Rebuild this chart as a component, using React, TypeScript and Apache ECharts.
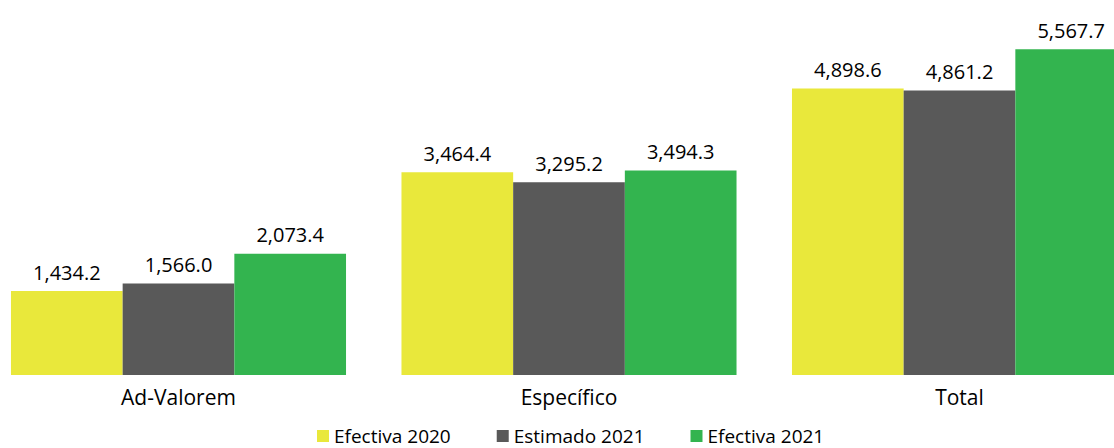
import React, { useEffect, useRef } from "react";
import * as echarts from "echarts";

const categories = ["Ad-Valorem", "Específico", "Total"];
const seriesNames = ["Efectiva 2020", "Estimado 2021", "Efectiva 2021"];
const efectiva2020 = [1434.2, 3464.4, 4898.6];
const estimado2021 = [1566.0, 3295.2, 4861.2];
const efectiva2021 = [2073.4, 3494.3, 5567.7];
const colors = ["#E9E83B", "#595959", "#33B44F"];

const FONT = "'Open Sans', 'Noto Sans', sans-serif";

const fmt = (v: number) =>
  v.toLocaleString("en-US", { minimumFractionDigits: 1, maximumFractionDigits: 1 });

export default function App() {
  const ref = useRef<HTMLDivElement>(null);
  useEffect(() => {
    if (!ref.current) return;
    const chart = echarts.init(ref.current, undefined, { renderer: "svg" });
    const values = [efectiva2020, estimado2021, efectiva2021];
    chart.setOption({
      animation: false,
      backgroundColor: "#ffffff",
      textStyle: { fontFamily: FONT },
      grid: {
        left: -16.75,
        width: 1171.5,
        top: 24,
        bottom: 73,
        containLabel: false,
        outerBoundsMode: "none",
      },
      legend: {
        data: seriesNames,
        left: 317,
        top: 426,
        padding: 0,
        icon: "rect",
        itemWidth: 12,
        itemHeight: 12,
        itemGap: 46,
        textStyle: { fontFamily: FONT, fontSize: 19, lineHeight: 20, color: "#000" },
      },
      xAxis: {
        type: "category",
        data: categories,
        axisLine: { show: false },
        axisTick: { show: false },
        axisLabel: { fontFamily: FONT, fontSize: 21, color: "#000", margin: 11 },
      },
      yAxis: {
        type: "value",
        min: 0,
        max: 6000,
        show: false,
        splitLine: { show: false },
      },
      series: seriesNames.map((name, i) => ({
        name,
        type: "bar",
        data: values[i],
        barGap: "0%",
        barCategoryGap: "14.2%",
        itemStyle: { color: colors[i] },
        label: {
          show: true,
          position: "top",
          distance: 9,
          fontFamily: FONT,
          fontSize: 20,
          color: "#000",
          formatter: (p: any) => fmt(p.value),
        },
      })),
    });
    return () => chart.dispose();
  }, []);
  return (
    <div
      ref={ref}
      style={{ position: "fixed", left: 0, top: 0, width: 1114, height: 448 }}
    />
  );
}
